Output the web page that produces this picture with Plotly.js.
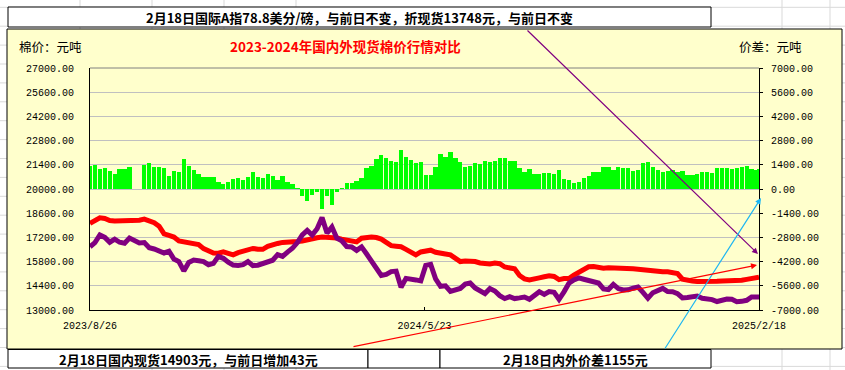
<!DOCTYPE html>
<html><head><meta charset="utf-8">
<script src="https://cdn.plot.ly/plotly-3.0.1.min.js"></script>
<style>html,body{margin:0;padding:0;background:#fff;}#chart{width:845px;height:370px;}</style>
</head><body><div id="chart"></div>
<script>
// ---- data ----
const startDate = '2023-08-26';
const stepDays = 4;
const endDate = '2025-02-18';

// 国内现货 (left axis)
const domestic = [
18010,18150,18330,18300,18180,18150,18150,18160,18160,18170,
18190,18260,18180,18050,17850,17400,17320,17220,17000,16960,
16920,16860,16780,16550,16400,16300,16290,16370,16280,16190,
16320,16400,16470,16560,16520,16510,16680,16790,16850,16910,
16950,16960,16960,16990,17070,17140,17180,17220,17210,17200,
17160,17100,17030,16960,16940,17150,17220,17220,17190,17100,
16910,16720,16690,16660,16510,16340,16190,16360,16410,16460,
16340,16260,16240,16190,15970,15800,15830,15820,15800,15720,
15660,15660,15720,15680,15490,15410,15380,15000,14800,14740,
14770,14860,14920,14980,14940,14760,14820,14820,15020,15180,
15400,15500,15510,15460,15420,15440,15440,15410,15370,15400,
15380,15360,15320,15310,15280,15260,15220,15210,15170,15110,
14780,14700,14680,14650,14640,14610,14630,14660,14680,14680,
14680,14700,14720,14770,14820,14880,14903];

// 国际折现货 (left axis)
const international = [
16660,16900,17340,17200,16920,17100,16920,16860,17160,17000,
16880,16900,16600,16530,16380,16300,16400,15950,15800,15260,
15750,15890,15850,15800,15620,15700,16100,15990,15770,15600,
15570,15620,15800,15570,15590,15700,15780,15880,16200,16100,
16350,16570,16900,17340,17600,17340,17700,18350,17450,17800,
17150,17000,16670,16650,16450,16650,16250,15830,15500,15000,
15060,15220,15250,14320,14830,14750,14740,14680,15580,15640,
14800,14370,14400,14080,14130,14250,14500,14560,14270,14120,
13950,14240,14100,13830,13660,13770,13660,13700,13750,13620,
13800,14060,13900,14070,14030,13620,14050,14550,14740,14860,
14780,14700,14600,14560,14220,14180,14480,14240,14160,14170,
14260,14330,14020,13680,14000,14160,14250,14070,14060,13950,
13700,13720,13790,13810,13680,13660,13600,13490,13560,13630,
13620,13480,13500,13560,13750,13720,13748];

// 内外价差 (right axis)
const spread = [
1350,1390,1160,1200,1040,850,1160,1160,1270,null,
null,1390,1480,1290,1290,1200,770,1040,1000,1740,
1350,1100,850,710,710,710,420,270,385,580,
650,520,670,965,710,620,850,770,500,770,
385,300,80,-400,-700,-350,-150,-1150,-385,-900,
-190,80,330,330,460,620,1234,1350,1760,1967,
1812,1620,1542,2256,1870,1677,1485,1581,830,810,
1300,2005,1870,2121,1812,1581,1292,1350,1485,1427,
1620,1542,1620,1774,1812,1620,1600,1195,1003,1157,
848,848,906,950,850,1100,550,500,328,385,
617,771,964,964,1290,1300,1100,1290,1234,1200,
1041,1100,1500,1550,1290,1100,1003,1050,1100,1003,
1041,810,810,850,964,964,906,1195,1234,1195,
1157,1195,1292,1330,1157,1100,1155];

const xTickVals = ['2023-08-26','2024-05-23','2025-02-18'];
const xTickText = ['2023/8/26','2024/5/23','2025/2/18'];
const leftTicks = [13000,14400,15800,17200,18600,20000,21400,22800,24200,25600,27000];
const rightTicks = [-7000,-5600,-4200,-2800,-1400,0,1400,2800,4200,5600,7000];

const titleText = '2023-2024年国内外现货棉价行情对比';
const leftUnit = '棉价：元吨';
const rightUnit = '价差：元吨';
const topNote = '2月18日国际A指78.8美分/磅，与前日不变，折现货13748元，与前日不变';
const bottomNote1 = '2月18日国内现货14903元，与前日增加43元';
const bottomNote2 = '2月18日内外价差1155元';

// ---- build ----
function addDays(s, n){ const d = new Date(s+'T00:00:00Z'); d.setUTCDate(d.getUTCDate()+n); return d.toISOString().slice(0,10); }
const dates = [];
for (let i=0;i<domestic.length-1;i++) dates.push(addDays(startDate, i*stepDays));
dates.push(endDate);

const L=90, T=68, W=669, H=242;
const px = x => (x-L)/W;
const py = y => (T+H-y)/H;

const shapes = [];
// worksheet gridlines
for (let k=0;k<20;k++){
  const y = 7.3 + 18.9*k;
  shapes.push({type:'line',xref:'paper',yref:'paper',x0:px(0),x1:px(845),y0:py(y),y1:py(y),line:{color:'#D9D9D9',width:1},layer:'below'});
}
[80,152,224,296,782,830].forEach(x=>{
  shapes.push({type:'line',xref:'paper',yref:'paper',x0:px(x),x1:px(x),y0:py(0),y1:py(370),line:{color:'#D9D9D9',width:1},layer:'below'});
});
// chart area
shapes.push({type:'rect',xref:'paper',yref:'paper',x0:px(7),x1:px(842),y0:py(349),y1:py(29),fillcolor:'#FFFFCC',line:{color:'#000',width:1},layer:'below'});
// text boxes
shapes.push({type:'rect',xref:'paper',yref:'paper',x0:px(8),x1:px(711),y0:py(27),y1:py(7),fillcolor:'#FFFFFF',line:{color:'#000',width:1},layer:'below'});
[[8,368],[368,440],[440,711]].forEach(b=>{
  shapes.push({type:'rect',xref:'paper',yref:'paper',x0:px(b[0]),x1:px(b[1]),y0:py(368),y1:py(349.5),fillcolor:'#FFFFFF',line:{color:'#000',width:1},layer:'below'});
});
// plot area top border
shapes.push({type:'line',xref:'paper',yref:'paper',x0:0,x1:1,y0:1,y1:1,line:{color:'#808080',width:1}});

const cjk = 'Noto Sans CJK SC';
const annotations = [
  {text:'<b>'+titleText+'</b>',x:px(345),y:py(46),font:{family:cjk,size:13.5,color:'#FF0000'}},
  {text:leftUnit,x:px(17),y:py(46),xanchor:'left',font:{family:cjk,size:12.5,color:'#000'}},
  {text:rightUnit,x:px(737),y:py(46),xanchor:'left',font:{family:cjk,size:12.5,color:'#000'}},
  {text:'<b>'+topNote+'</b>',x:px(359.5),y:py(17.5),font:{family:cjk,size:13,color:'#000'}},
  {text:'<b>'+bottomNote1+'</b>',x:px(188),y:py(359.5),font:{family:cjk,size:13,color:'#000'}},
  {text:'<b>'+bottomNote2+'</b>',x:px(575.5),y:py(359.5),font:{family:cjk,size:13,color:'#000'}}
].map(a=>Object.assign({xref:'paper',yref:'paper',showarrow:false,xanchor:'center',yanchor:'middle'},a));

// arrows: [tipX, tipY, tailX, tailY, color]
const arrows = [
  [758,254,526,29,'#800080'],
  [761,198,664,350,'#1EB6F2'],
  [757,265,352,347,'#FF0000']
];
arrows.forEach(a=>{
  annotations.push({xref:'paper',yref:'paper',x:px(a[0]),y:py(a[1]),ax:a[2]-a[0],ay:a[3]-a[1],
    text:'',showarrow:true,arrowhead:2,arrowsize:1,arrowwidth:1.2,arrowcolor:a[4],standoff:0});
});

const mono = 'Liberation Mono';
const traces = [
  {type:'scatter',mode:'lines',x:dates,y:domestic,yaxis:'y',line:{color:'#FF0000',width:5},hoverinfo:'skip'},
  {type:'scatter',mode:'lines',x:dates,y:international,yaxis:'y',line:{color:'#800080',width:5},hoverinfo:'skip'},
  {type:'bar',x:dates,y:spread,yaxis:'y2',width:3.5*86400000,marker:{color:'#00FF00',line:{width:0}},hoverinfo:'skip'}
];

const layout = {
  width:845,height:370,
  margin:{l:L,r:845-L-W,t:T,b:370-T-H,pad:0},
  paper_bgcolor:'#FFFFFF',plot_bgcolor:'rgba(0,0,0,0)',
  showlegend:false,
  font:{family:mono,size:10,color:'#000'},
  xaxis:{type:'date',range:[startDate,endDate],tickvals:xTickVals,ticktext:xTickText,
    ticks:'inside',ticklen:3,tickcolor:'#000',showgrid:false,zeroline:false,
    showline:true,linecolor:'#000',linewidth:1,tickfont:{family:mono,size:10},ticklabelstandoff:6},
  yaxis:{range:[13000,27000],tickvals:leftTicks,ticktext:leftTicks.map(v=>v.toFixed(2)),
    showgrid:true,gridcolor:'#C0C0C0',gridwidth:1,zeroline:false,ticks:'',
    showline:true,linecolor:'#000',linewidth:1,tickfont:{family:mono,size:10},ticklabelstandoff:13},
  yaxis2:{range:[-7000,7000],tickvals:rightTicks,ticktext:rightTicks.map(v=>v.toFixed(2)),
    overlaying:'y',side:'right',showgrid:false,zeroline:false,ticks:'outside',ticklen:3,tickcolor:'#000',
    showline:true,linecolor:'#000',linewidth:1,tickfont:{family:mono,size:10},ticklabelstandoff:6},
  shapes:shapes,
  annotations:annotations,
  bargap:0
};

Plotly.newPlot('chart',traces,layout,{displayModeBar:false,staticPlot:true});
</script>
</body></html>
